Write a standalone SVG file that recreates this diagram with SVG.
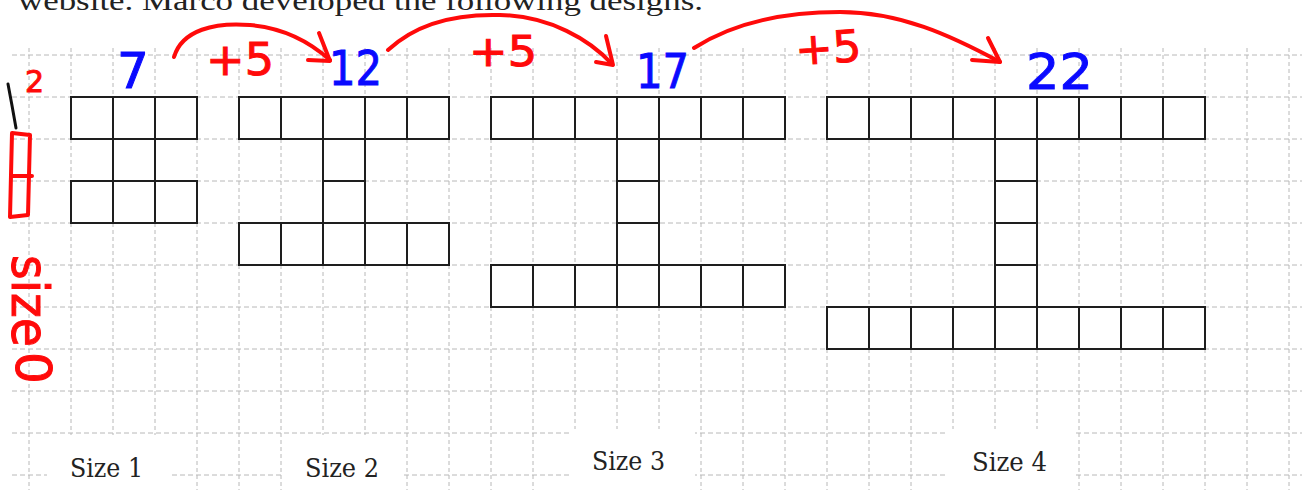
<svg xmlns="http://www.w3.org/2000/svg" width="1302" height="490" viewBox="0 0 1302 490">
<defs>
<style>
.gv{stroke:#b8b8b8;stroke-width:1;stroke-dasharray:4 3;fill:none}
.gh{stroke:#b8b8b8;stroke-width:1;stroke-dasharray:5 3;fill:none}
.c{fill:#fff;stroke:#1e1e1e;stroke-width:2}
.lbl{font-family:"DejaVu Serif","Liberation Serif",serif;font-size:26px;fill:#222}
.blue{font-family:"DejaVu Sans","Liberation Sans",sans-serif;fill:#0a0aff;stroke:#0a0aff;stroke-width:1}
.red{font-family:"DejaVu Sans","Liberation Sans",sans-serif;fill:#ff0a0a;stroke:#ff0a0a;stroke-width:1}
.arc{fill:none;stroke:#ff0a0a;stroke-width:4;stroke-linecap:round;stroke-linejoin:round}
</style>
</defs>
<rect width="1302" height="490" fill="#fff"/>
<text x="18" y="10" font-family="Liberation Serif, serif" font-size="28" fill="#222" textLength="685" lengthAdjust="spacingAndGlyphs">website.  Marco developed the following designs.</text>
<g id="grid">
<path class="gh" d="M12,55H1302M12,97H1302M12,139H1302M12,181H1302M12,223H1302M12,265H1302M12,307H1302M12,349H1302M12,391H1302M12,433H1302M12,475H1302"/>
<path class="gv" d="M29,48V490M71,48V490M113,48V490M155,48V490M197,48V490M239,48V490M281,48V490M323,48V490M365,48V490M407,48V490M449,48V490M491,48V490M533,48V490M575,48V490M617,48V490M659,48V490M701,48V490M743,48V490M785,48V490M827,48V490M869,48V490M911,48V490M953,48V490M995,48V490M1037,48V490M1079,48V490M1121,48V490M1163,48V490M1205,48V490M1247,48V490M1289,48V490"/>
<rect x="47" y="435" width="125" height="55" fill="#fff"/>
<rect x="284" y="435" width="120" height="55" fill="#fff"/>
<rect x="570" y="429" width="125" height="61" fill="#fff"/>
<rect x="948" y="429" width="125" height="61" fill="#fff"/>
</g>
<g id="size1">
<rect class="c" x="71" y="97" width="42" height="42"/><rect class="c" x="113" y="97" width="42" height="42"/><rect class="c" x="155" y="97" width="42" height="42"/>
<rect class="c" x="113" y="139" width="42" height="42"/>
<rect class="c" x="71" y="181" width="42" height="42"/><rect class="c" x="113" y="181" width="42" height="42"/><rect class="c" x="155" y="181" width="42" height="42"/>
</g>
<g id="size2">
<rect class="c" x="239" y="97" width="42" height="42"/><rect class="c" x="281" y="97" width="42" height="42"/><rect class="c" x="323" y="97" width="42" height="42"/><rect class="c" x="365" y="97" width="42" height="42"/><rect class="c" x="407" y="97" width="42" height="42"/>
<rect class="c" x="323" y="139" width="42" height="42"/><rect class="c" x="323" y="181" width="42" height="42"/>
<rect class="c" x="239" y="223" width="42" height="42"/><rect class="c" x="281" y="223" width="42" height="42"/><rect class="c" x="323" y="223" width="42" height="42"/><rect class="c" x="365" y="223" width="42" height="42"/><rect class="c" x="407" y="223" width="42" height="42"/>
</g>
<g id="size3">
<rect class="c" x="491" y="97" width="42" height="42"/><rect class="c" x="533" y="97" width="42" height="42"/><rect class="c" x="575" y="97" width="42" height="42"/><rect class="c" x="617" y="97" width="42" height="42"/><rect class="c" x="659" y="97" width="42" height="42"/><rect class="c" x="701" y="97" width="42" height="42"/><rect class="c" x="743" y="97" width="42" height="42"/>
<rect class="c" x="617" y="139" width="42" height="42"/><rect class="c" x="617" y="181" width="42" height="42"/><rect class="c" x="617" y="223" width="42" height="42"/>
<rect class="c" x="491" y="265" width="42" height="42"/><rect class="c" x="533" y="265" width="42" height="42"/><rect class="c" x="575" y="265" width="42" height="42"/><rect class="c" x="617" y="265" width="42" height="42"/><rect class="c" x="659" y="265" width="42" height="42"/><rect class="c" x="701" y="265" width="42" height="42"/><rect class="c" x="743" y="265" width="42" height="42"/>
</g>
<g id="size4">
<rect class="c" x="827" y="97" width="42" height="42"/><rect class="c" x="869" y="97" width="42" height="42"/><rect class="c" x="911" y="97" width="42" height="42"/><rect class="c" x="953" y="97" width="42" height="42"/><rect class="c" x="995" y="97" width="42" height="42"/><rect class="c" x="1037" y="97" width="42" height="42"/><rect class="c" x="1079" y="97" width="42" height="42"/><rect class="c" x="1121" y="97" width="42" height="42"/><rect class="c" x="1163" y="97" width="42" height="42"/>
<rect class="c" x="995" y="139" width="42" height="42"/><rect class="c" x="995" y="181" width="42" height="42"/><rect class="c" x="995" y="223" width="42" height="42"/><rect class="c" x="995" y="265" width="42" height="42"/>
<rect class="c" x="827" y="307" width="42" height="42"/><rect class="c" x="869" y="307" width="42" height="42"/><rect class="c" x="911" y="307" width="42" height="42"/><rect class="c" x="953" y="307" width="42" height="42"/><rect class="c" x="995" y="307" width="42" height="42"/><rect class="c" x="1037" y="307" width="42" height="42"/><rect class="c" x="1079" y="307" width="42" height="42"/><rect class="c" x="1121" y="307" width="42" height="42"/><rect class="c" x="1163" y="307" width="42" height="42"/>
</g>
<g id="labels">
<text class="lbl" x="70" y="477" textLength="73" lengthAdjust="spacingAndGlyphs">Size 1</text>
<text class="lbl" x="305" y="477" textLength="74" lengthAdjust="spacingAndGlyphs">Size 2</text>
<text class="lbl" x="592" y="470" textLength="73" lengthAdjust="spacingAndGlyphs">Size 3</text>
<text class="lbl" x="972" y="471" textLength="75" lengthAdjust="spacingAndGlyphs">Size 4</text>
</g>
<g id="counts">
<text class="blue" x="117" y="88" font-size="50">7</text>
<text class="blue" x="329" y="85" font-size="48" textLength="53" lengthAdjust="spacingAndGlyphs">12</text>
<text class="blue" x="636" y="88" font-size="48" textLength="53" lengthAdjust="spacingAndGlyphs">17</text>
<text class="blue" x="1026" y="89" font-size="50" textLength="67" lengthAdjust="spacingAndGlyphs">22</text>
</g>
<g id="connectors">
<path class="arc" d="M174,57 C182,30 215,22 250,25 C285,28 310,42 330,60"/>
<path class="arc" d="M319,33 L330,61 L308,60"/>
<path class="arc" d="M388,50 C420,20 465,14 500,15 C550,16 590,40 612,64"/>
<path class="arc" d="M606,36 L613,65 L596,62"/>
<path class="arc" d="M694,48 C730,25 780,12 840,12 C900,12 950,35 1000,62"/>
<path class="arc" d="M988,38 L1000,62 L972,60"/>
<text class="red" x="206" y="75" font-size="45" textLength="68" lengthAdjust="spacingAndGlyphs">+5</text>
<text class="red" x="469" y="66" font-size="42" textLength="68" lengthAdjust="spacingAndGlyphs">+5</text>
<text class="red" x="795" y="63" font-size="44" textLength="66" lengthAdjust="spacingAndGlyphs" transform="rotate(-4 828 45)">+5</text>
</g>
<g id="size0">
<text class="red" x="25" y="92" font-size="30">2</text>
<path d="M8,84 Q12,105 16,128" fill="none" stroke="#111" stroke-width="3" stroke-linecap="round"/>
<path class="arc" d="M12,133 L30,135 L28,215 L10,217 Z M11,176 L32,176"/>
<text class="red" transform="translate(12,255) rotate(90)" x="0" y="0" font-size="52" textLength="92" lengthAdjust="spacingAndGlyphs">size</text>
<text class="red" transform="translate(16,352) rotate(90)" x="0" y="0" font-size="50">0</text>
</g>
</svg>
